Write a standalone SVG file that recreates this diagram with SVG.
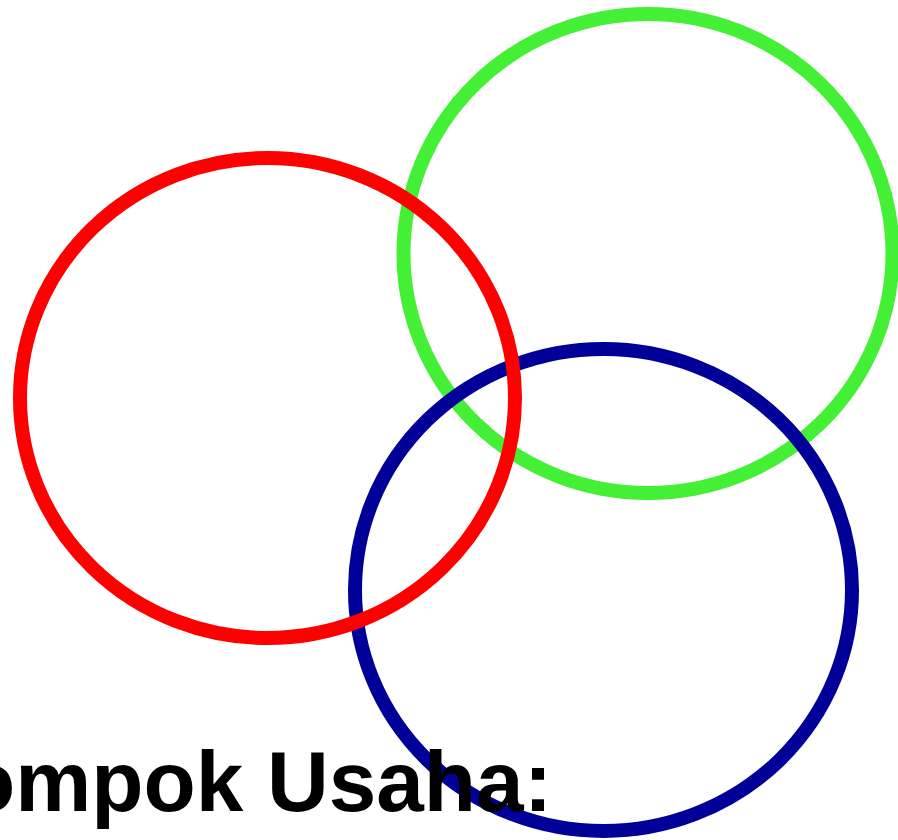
<svg xmlns="http://www.w3.org/2000/svg" width="898" height="840" viewBox="0 0 898 840">
<style>
.ring{fill:none;stroke-width:14}
.label{font-family:"Liberation Sans",Arial,sans-serif;font-weight:bold;font-size:85.5px;fill:#000}
</style>
<rect width="898" height="840" fill="#fff"/>
<g id="green"><ellipse class="ring" cx="648" cy="253.5" rx="244.5" ry="239.5" stroke="#44F036"/></g>
<g id="blue"><ellipse class="ring" cx="603.5" cy="590" rx="248.5" ry="241" stroke="#000099"/></g>
<g id="red"><ellipse class="ring" cx="267.5" cy="398" rx="247.5" ry="240" stroke="#FF0000"/></g>
<g id="title"><text class="label" x="-37" y="811">ompok Usaha:</text></g>
</svg>
